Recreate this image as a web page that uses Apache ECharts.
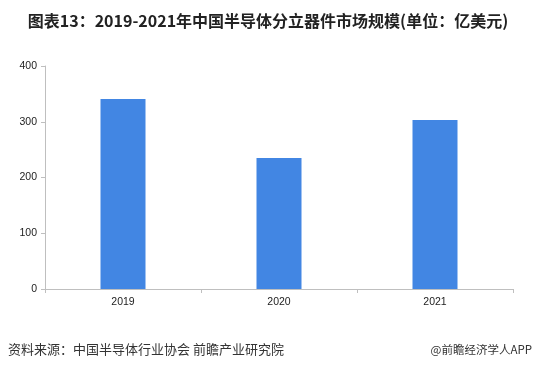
<!DOCTYPE html>
<html><head><meta charset="utf-8">
<script src="https://cdn.jsdelivr.net/npm/echarts@6/dist/echarts.min.js"></script>
<style>html,body{margin:0;padding:0;background:#fff}#c{width:536px;height:372px}</style>
</head><body><div id="c"></div>
<script>
const categories = ['2019', '2020', '2021'];
const values = [341, 235, 303];
const yTicks = [0, 100, 200, 300, 400];
const titleText = '图表13：2019-2021年中国半导体分立器件市场规模(单位：亿美元)';
const sourceText = '资料来源：中国半导体行业协会 前瞻产业研究院';
const brandText = '@前瞻经济学人APP';

const chart = echarts.init(document.getElementById('c'), null, {renderer: 'canvas'});
chart.setOption({
  animation: false,
  backgroundColor: '#fff',
  title: [{
    text: titleText, left: 'center', top: 8,
    textStyle: {fontSize: 16, fontWeight: 'bold', color: '#222', fontFamily: '"Noto Sans CJK SC", sans-serif'}
  }],
  graphic: [
    {type: 'text', left: 8, top: 343, style: {text: sourceText, fontSize: 13, fill: '#333', fontFamily: '"Noto Sans CJK SC", sans-serif'}},
    {type: 'text', right: 4, top: 344, style: {text: brandText, fontSize: 11.5, fill: '#333', fontFamily: '"Noto Sans CJK SC", sans-serif'}}
  ],
  grid: {left: 45, right: 23, top: 66, bottom: 83},
  xAxis: {
    type: 'category', data: categories,
    axisLine: {lineStyle: {color: '#bfbfbf'}},
    axisTick: {show: true, length: 4, lineStyle: {color: '#bfbfbf'}},
    axisLabel: {fontSize: 10.5, color: '#222', margin: 8, fontFamily: 'Liberation Sans, sans-serif'}
  },
  yAxis: {
    type: 'value', min: yTicks[0], max: yTicks[yTicks.length-1], interval: 100,
    axisLine: {show: true, lineStyle: {color: '#bfbfbf'}},
    axisTick: {show: true, length: 4, lineStyle: {color: '#bfbfbf'}},
    splitLine: {show: false},
    axisLabel: {fontSize: 10.5, color: '#222', margin: 8, fontFamily: 'Liberation Sans, sans-serif'}
  },
  series: [{
    type: 'bar', data: values, barWidth: 45,
    itemStyle: {color: '#4286e3'}
  }]
});
</script></body></html>
